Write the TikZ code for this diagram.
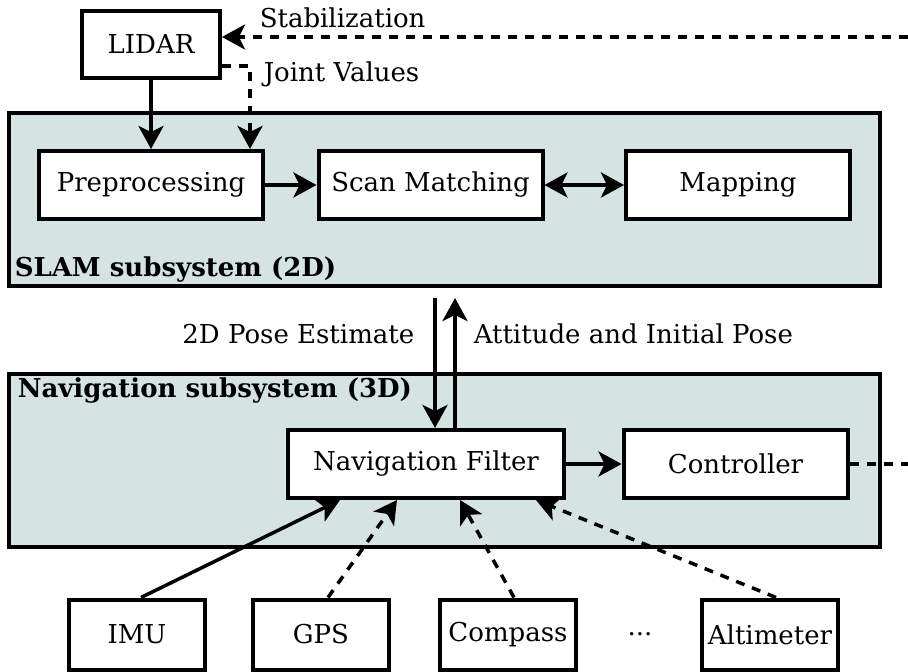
\documentclass[tikz,border=0pt]{standalone}
\usepackage{fontspec}
\setmainfont{DejaVu Serif}
\usetikzlibrary{arrows.meta,positioning}
\definecolor{subfill}{RGB}{213,227,227}
\begin{document}
\begin{tikzpicture} [
   x=0.5pt, y=-0.5pt, line width=1.75pt,
   >={Stealth[length=11.5pt,width=12.5pt,inset=3pt]},
   font=\fontsize{13}{15}\selectfont,
   blk/.style={draw, line width=2pt, fill=white, minimum width=112pt, minimum height=34pt, inner sep=0pt},
   sensor/.style={draw, line width=2pt, fill=white, minimum width=68pt, minimum height=35pt, inner sep=0pt},
   subsys/.style={draw, line width=2pt, fill=subfill, minimum width=435.5pt, minimum height=86.5pt},
   lbl/.style={inner sep=0pt},
   title/.style={inner sep=0pt, font=\fontsize{13}{15}\selectfont\bfseries},
   dsh/.style={dash pattern=on 4.5pt off 4pt}
]
   \useasboundingbox (0,0) rectangle (908,672);
   % subsystems
   \node (slam) [subsys] at (444.5,200) {};
   \node (nav) [subsys] at (444.5,460.5) {};
   \node [title, anchor=west] at (13,270) {SLAM subsystem (2D)};
   \node [title, anchor=west] at (16,391) {Navigation subsystem (3D)};
   % blocks
   \node (lidar) [blk, minimum width=69pt, minimum height=33.5pt] at (151,44.5) {LIDAR};
   \node (pre) [blk] at (151,185) {Preprocessing};
   \node (scan) [blk] at (430.5,185) {Scan Matching};
   \node (map) [blk] at (738,185) {Mapping};
   \node (nf) [blk, minimum width=138pt] at (426,464) {Navigation Filter};
   \node (ctrl) [blk] at (735.5,464) {Controller};
   % sensors
   \node (imu) [sensor] at (137,634.5) {IMU};
   \node (gps) [sensor] at (321,634.5) {GPS};
   \node (compass) [sensor] at (508,634.5) {Compass};
   \node (dots) [lbl] at (640,634.5) {...};
   \node (alt) [sensor] at (770,634.5) {Altimeter};
   % free ends
   \coordinate (stabin) at (908,37);
   \coordinate (ctrlout) at (908,464);
   \coordinate (posetop) at (435,298);
   \coordinate (atttop) at (455,298);
   % connectors
   \draw [->] (lidar.south) -- (pre.north);
   \draw [->, dsh] ([yshift=-10.75pt]lidar.east) -| ([xshift=49.5pt]pre.north);
   \draw [->, dsh] (stabin) -- ([yshift=3.75pt]lidar.east);
   \node [lbl, anchor=west] at (258,18) {Stabilization};
   \node [lbl, anchor=west] at (262,74) {Joint Values};
   \draw [->] (pre.east) -- (scan.west);
   \draw [<->] (scan.east) -- (map.west);
   \draw [->] (posetop) -- ([xshift=4.5pt]nf.north);
   \draw [->] ([xshift=14.5pt]nf.north) -- (atttop);
   \node [lbl, anchor=east] at (416,334) {2D Pose Estimate};
   \node [lbl, anchor=west] at (472,334) {Attitude and Initial Pose};
   \draw [->] (nf.east) -- (ctrl.west);
   \draw [dsh] (ctrl.east) -- (ctrlout);
   \draw [->] ([xshift=2pt]imu.north) -- ([xshift=27pt]nf.south west);
   \draw [->, dsh] ([xshift=3.5pt]gps.north) -- ([xshift=55.5pt]nf.south west);
   \draw [->, dsh] ([xshift=3pt]compass.north) -- ([xshift=87pt]nf.south west);
   \draw [->, dsh] ([xshift=3pt]alt.north) -- ([xshift=125pt]nf.south west);
\end{tikzpicture}
\end{document}
